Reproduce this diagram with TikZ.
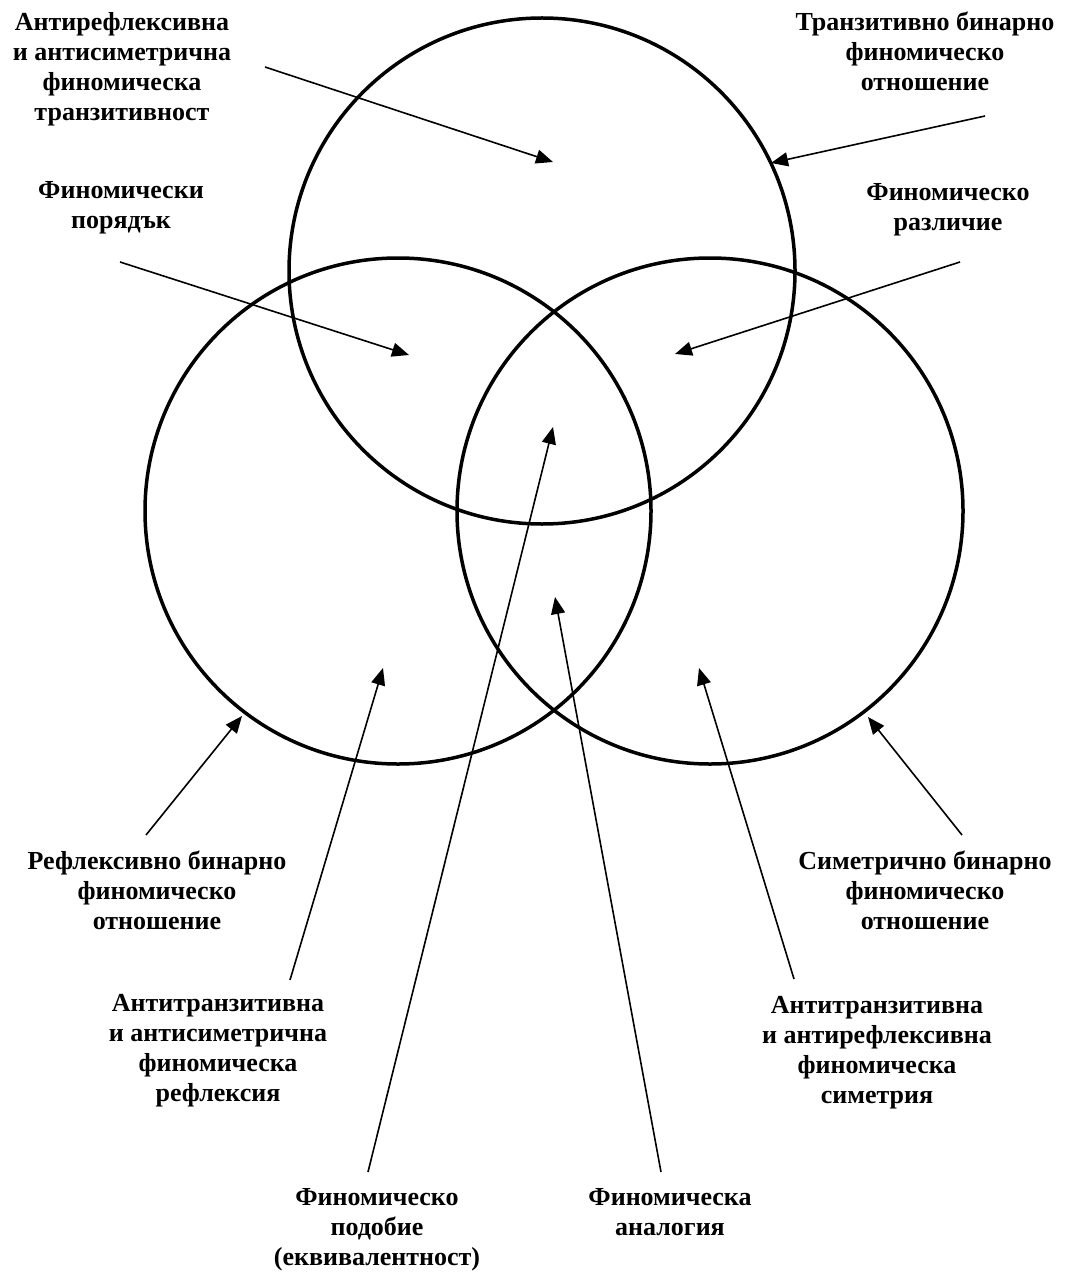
\documentclass[tikz,border=0pt]{standalone}
\usepackage{fontspec}
\setmainfont{Liberation Serif}
\usetikzlibrary{arrows.meta}
\tikzset{
  lbl/.style={font=\fontsize{26}{30}\selectfont\bfseries, align=center, anchor=north, inner sep=0pt},
  ring/.style={line width=3.5pt},
  ptr/.style={line width=1.6pt, -{Triangle[length=17pt,width=14pt]}},
}
\begin{document}
\begin{tikzpicture}[x=1pt,y=-1pt]
\useasboundingbox (0,0) rectangle (1069,1273);
% circles
\node[ring, draw, circle, minimum size=506pt, inner sep=0pt] (ctop) at (542,271) {};
\node[ring, draw, circle, minimum size=506pt, inner sep=0pt] (cleft) at (398,511) {};
\node[ring, draw, circle, minimum size=506pt, inner sep=0pt] (cright) at (710,511) {};
% labels
\node[lbl] (t1) at (122,12) {Антирефлексивна\\и антисиметрична\\финомическа\\транзитивност};
\node[lbl] (t2) at (925,12) {Транзитивно бинарно\\финомическо\\отношение};
\node[lbl] (t3) at (121,181) {Финомически\\порядък};
\node[lbl] (t4) at (948,183) {Финомическо\\различие};
\node[lbl] (t5) at (157,851) {Рефлексивно бинарно\\финомическо\\отношение};
\node[lbl] (t6) at (925,851) {Симетрично бинарно\\финомическо\\отношение};
\node[lbl] (t7) at (218,994) {Антитранзитивна\\и антисиметрична\\финомическа\\рефлексия};
\node[lbl] (t8) at (877,996) {Антитранзитивна\\и антирефлексивна\\финомическа\\симетрия};
\node[lbl] (t9) at (377,1188) {Финомическо\\подобие\\(еквивалентност)};
\node[lbl] (t10) at (670,1188) {Финомическа\\аналогия};
% arrow ends
\coordinate (s1) at (265,67);   \coordinate (e1) at (553,162);
\coordinate (s2) at (985,116);  \coordinate (e2) at (771,163);
\coordinate (s3) at (120,262);  \coordinate (e3) at (409,355);
\coordinate (s4) at (960,262);  \coordinate (e4) at (675,354);
\coordinate (s5) at (146,835);  \coordinate (e5) at (242,716);
\coordinate (s6) at (290,980);  \coordinate (e6) at (383,668);
\coordinate (s7) at (368,1172); \coordinate (e7) at (553,427);
\coordinate (s8) at (661,1172); \coordinate (e8) at (555,597);
\coordinate (s9) at (794,979);  \coordinate (e9) at (699,668);
\coordinate (s10) at (962,835); \coordinate (e10) at (868,717);
\foreach \i in {1,...,10} { \draw[ptr] (s\i) -- (e\i); }
\end{tikzpicture}
\end{document}
